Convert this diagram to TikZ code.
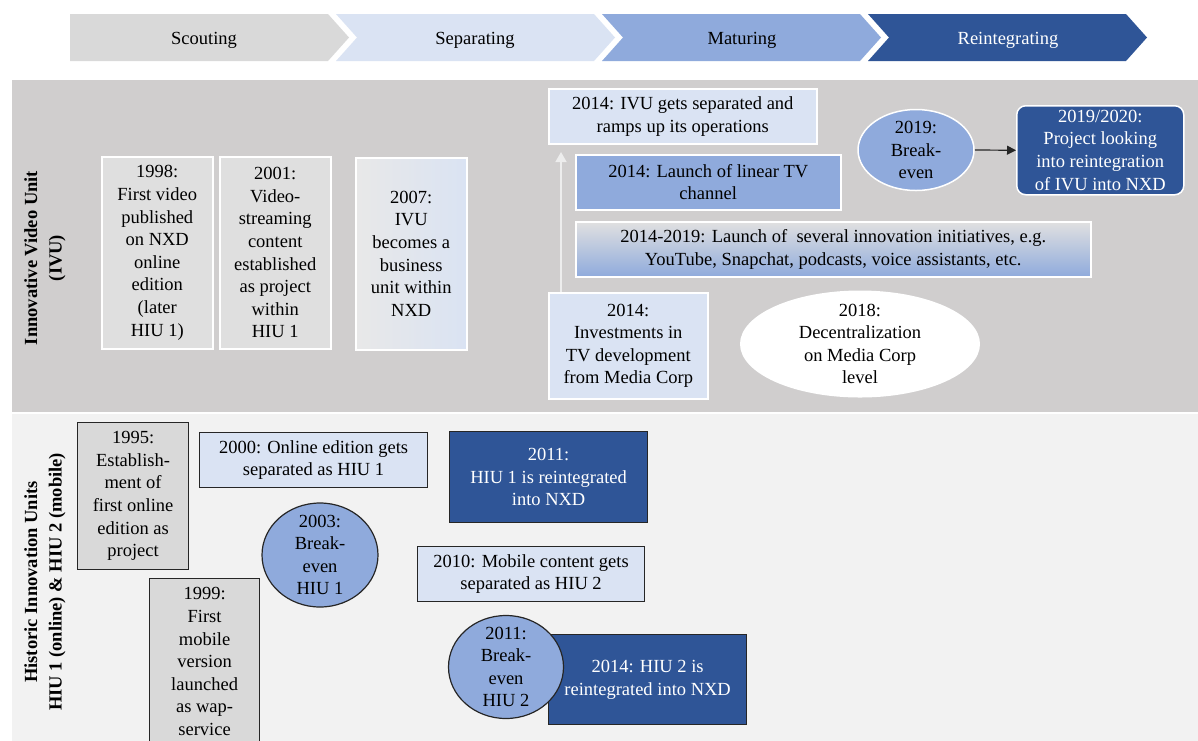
\documentclass[tikz,border=0pt]{standalone}
\usepackage{fontspec}
\setmainfont{Liberation Serif}
\usetikzlibrary{shapes.geometric,arrows.meta}
\definecolor{cgray}{HTML}{D9D9D9}
\definecolor{clight}{HTML}{DAE3F3}
\definecolor{cmid}{HTML}{8FAADC}
\definecolor{cdark}{HTML}{2F5597}
\definecolor{bandA}{HTML}{D0CECE}
\definecolor{bandB}{HTML}{F2F2F2}
\definecolor{edge}{HTML}{262626}
\definecolor{paleline}{HTML}{EDEDED}
\begin{document}
\begin{tikzpicture}[x=1pt,y=-1pt,
  txt/.style={font=\fontsize{18.5}{22.6}\selectfont, align=center, inner sep=0pt},
  wbox/.style={txt, draw=white, line width=1.5pt, anchor=north west},
  kbox/.style={txt, draw=edge, line width=1.2pt, anchor=north west},
  wov/.style={ellipse, draw=white, line width=1.5pt, inner sep=0pt},
  kov/.style={ellipse, draw=edge, line width=1.2pt, inner sep=0pt, fill=cmid},
  lab/.style={font=\fontsize{18.5}{24.5}\selectfont\bfseries, align=center, rotate=90, inner sep=0pt},
  phase/.style={font=\fontsize{18.5}{22.6}\selectfont, inner sep=0pt, anchor=base}]
\useasboundingbox (0,0) rectangle (1198,740);
\clip (0,0) rectangle (1198,740);
\fill[white] (0,0) rectangle (1198,740);
% phase chevrons
\fill[cgray] (70,14) -- (328,14) -- (349,37.5) -- (328,61) -- (70,61) -- cycle;
\fill[clight] (336,14) -- (594,14) -- (615,37.5) -- (594,61) -- (336,61) -- (357,37.5) -- cycle;
\fill[cmid] (602,14) -- (860,14) -- (881,37.5) -- (860,61) -- (602,61) -- (623,37.5) -- cycle;
\fill[cdark] (868,14) -- (1126,14) -- (1147,37.5) -- (1126,61) -- (868,61) -- (889,37.5) -- cycle;
\node[phase] (ph1) at (204,44.5) {Scouting};
\node[phase] (ph2) at (475,44.5) {Separating};
\node[phase] (ph3) at (742,44.5) {Maturing};
\node[phase, text=white] (ph4) at (1008,44.5) {Reintegrating};
% bands
\fill[bandA] (12,80) rectangle (1198,412);
\fill[bandB] (12,414) rectangle (1198,745);
\node[lab] (labA) at (45,258) {Innovative Video Unit\\(IVU)};
\node[lab] (labB) at (45,582) {Historic Innovation Units\\HIU 1 (online) \& HIU 2 (mobile)};
% IVU band
\node[wbox, fill=cgray!85!white, minimum width=111, minimum height=192] (b1998) at (101,156)
  {1998:\\First video\\published\\on NXD\\online\\edition\\(later\\HIU 1)};
\node[wbox, fill=cgray!85!white, minimum width=111, minimum height=192] (b2001) at (219,156)
  {2001:\\Video-\\streaming\\content\\established\\as project\\within\\HIU 1};
\node[wbox, left color=cgray!60!white, middle color=cgray!55!clight, right color=clight, minimum width=111, minimum height=192] (b2007) at (355,157)
  {2007:\\IVU\\becomes a\\business\\unit within\\NXD};
\node[wbox, fill=clight, minimum width=268, minimum height=55] (bsep) at (548,88)
  {2014: IVU gets separated and\\ramps up its operations};
\node[wbox, fill=cmid, minimum width=265, minimum height=55] (blin) at (575,154)
  {2014: Launch of linear TV\\channel};
\node[wbox, top color=cgray!80!white, middle color=clight, bottom color=cmid, minimum width=515, minimum height=55] (binit) at (575,221)
  {2014-2019: Launch of \ several innovation initiatives, e.g.\\YouTube, Snapchat, podcasts, voice assistants, etc.};
\node[wbox, fill=clight, minimum width=159, minimum height=106] (binv) at (548,292)
  {2014:\\Investments in\\TV development\\from Media Corp};
\node[ellipse, fill=white, inner sep=0pt, minimum width=240, minimum height=107] (e2018) at (860,344) {};
\node[txt] (t2018) at (e2018) {2018:\\Decentralization\\on Media Corp\\level};
\node[wov, fill=cmid, minimum width=116, minimum height=81] (e2019) at (916,150) {};
\node[txt] (t2019) at (e2019) {2019:\\Break-\\even};
\node[wbox, fill=cdark, text=white, rounded corners=9pt, minimum width=167, minimum height=89] (bproj) at (1016,105)
  {2019/2020:\\Project looking\\into reintegration\\of IVU into NXD};
\coordinate (arrtop) at (561,152);
\draw[paleline, line width=1.5pt, -{Triangle[length=10pt,width=11pt]}] (binv.north -| arrtop) -- (arrtop);
\draw[edge, line width=1.2pt, -{Triangle[length=9pt,width=9pt]}] (e2019.east) -- (bproj.west);
% HIU band
\node[kbox, fill=cgray, minimum width=111, minimum height=147] (b1995) at (77,422)
  {1995:\\Establish-\\ment of\\first online\\edition as\\project};
\node[kbox, fill=cgray, minimum width=110, minimum height=166] (b1999) at (149,578)
  {1999:\\First\\mobile\\version\\launched\\as wap-\\service};
\node[kbox, fill=clight, minimum width=228, minimum height=55] (b2000) at (199,432)
  {2000: Online edition gets\\separated as HIU 1};
\node[kov, minimum width=116, minimum height=104] (e2003) at (320,555) {};
\node[txt] (t2003) at (e2003) {2003:\\Break-\\even\\HIU 1};
\node[kbox, fill=cdark, text=white, minimum width=198, minimum height=91] (b2011) at (449,431)
  {2011:\\HIU 1 is reintegrated\\into NXD};
\node[kbox, fill=clight, minimum width=227, minimum height=55] (b2010) at (417,546)
  {2010: Mobile content gets\\separated as HIU 2};
\node[kbox, fill=cdark, text=white, minimum width=198, minimum height=90] (b2014) at (548,634)
  {2014: HIU 2 is\\reintegrated into NXD};
\node[kov, minimum width=115, minimum height=103] (e2011) at (506,667) {};
\node[txt] (t2011) at (e2011) {2011:\\Break-\\even\\HIU 2};
\end{tikzpicture}
\end{document}
